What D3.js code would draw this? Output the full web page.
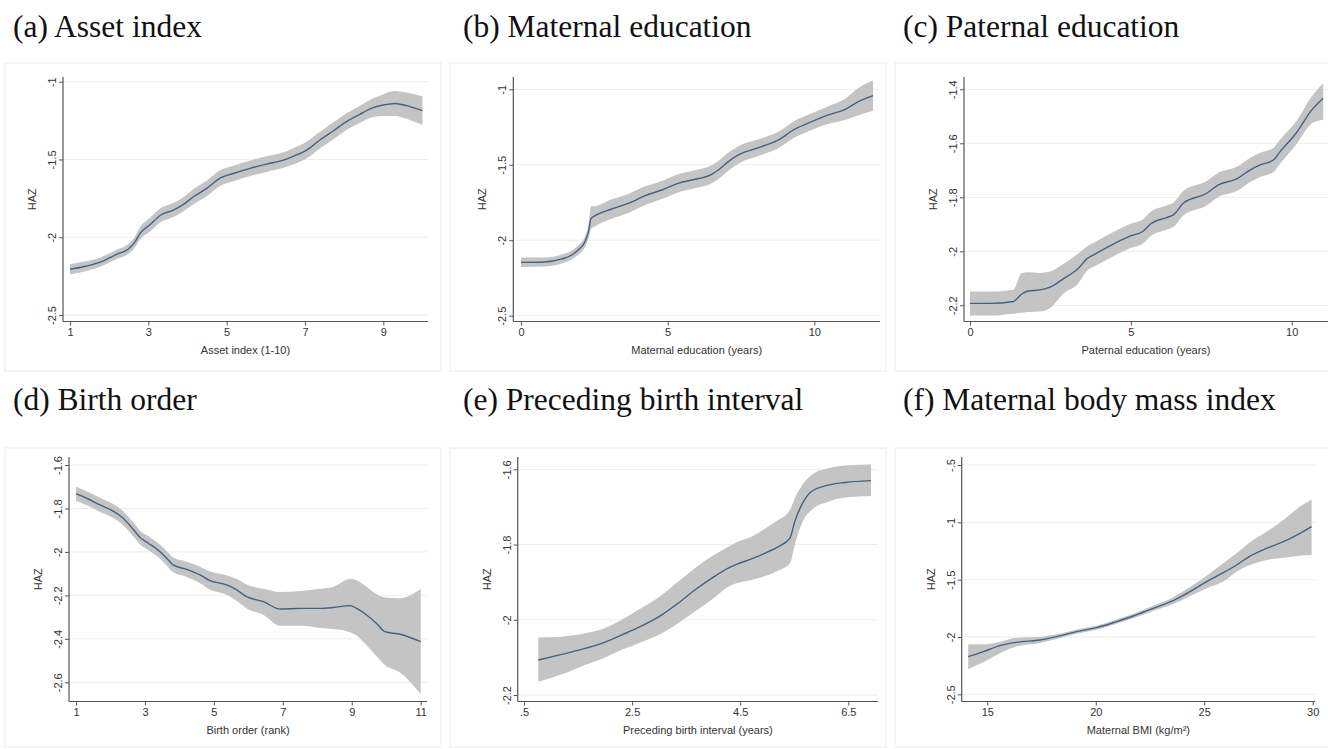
<!DOCTYPE html>
<html>
<head>
<meta charset="utf-8">
<script src="https://cdn.jsdelivr.net/npm/d3@7"></script>
<style>
  html, body { margin: 0; padding: 0; background: #fff; }
  svg { display: block; }
</style>
</head>
<body>
<svg id="chart" width="1328" height="749"></svg>
<script>
// ---- Panel titles and axis titles ----
const panelTitles = ["(a) Asset index", "(b) Maternal education", "(c) Paternal education",
                     "(d) Birth order", "(e) Preceding birth interval", "(f) Maternal body mass index"];
const xTitles = ["Asset index (1-10)", "Maternal education (years)", "Paternal education (years)",
                 "Birth order (rank)", "Preceding birth interval (years)", "Maternal BMI (kg/m\u00B2)"];
const yTitle = "HAZ";

// ---- Tick values ----
const xTicksA = [1, 3, 5, 7, 9];
const yTicksA = [-1, -1.5, -2, -2.5];
const xTicksB = [0, 5, 10];
const yTicksB = [-1, -1.5, -2, -2.5];
const xTicksC = [0, 5, 10];
const yTicksC = [-1.4, -1.6, -1.8, -2, -2.2];
const xTicksD = [1, 3, 5, 7, 9, 11];
const yTicksD = [-1.6, -1.8, -2, -2.2, -2.4, -2.6];
const xTicksE = [0.5, 2.5, 4.5, 6.5];
const yTicksE = [-1.6, -1.8, -2, -2.2];
const xTicksF = [15, 20, 25, 30];
const yTicksF = [-0.5, -1, -1.5, -2, -2.5];

// ---- (a) Asset index: smoothed HAZ with 95% CI ----
const assetX   = [1, 1.34, 1.77, 2.19, 2.49, 2.66, 2.79, 3.04, 3.3, 3.64, 3.89, 4.15, 4.49, 4.83, 5.17, 5.6, 6.02, 6.45, 6.7, 7.04, 7.38, 7.72, 8.06, 8.4, 8.74, 9.0, 9.3, 9.59, 10];
const assetFit = [-2.206, -2.19, -2.16, -2.11, -2.076, -2.03, -1.975, -1.92, -1.86, -1.825, -1.79, -1.74, -1.686, -1.62, -1.59, -1.557, -1.53, -1.504, -1.48, -1.44, -1.375, -1.317, -1.257, -1.21, -1.167, -1.15, -1.14, -1.154, -1.186];
const assetHi  = [-2.173, -2.158, -2.13, -2.08, -2.044, -1.995, -1.935, -1.875, -1.815, -1.78, -1.745, -1.692, -1.636, -1.57, -1.54, -1.507, -1.48, -1.454, -1.428, -1.386, -1.321, -1.263, -1.203, -1.154, -1.107, -1.08, -1.06, -1.069, -1.093];
const assetLo  = [-2.239, -2.222, -2.19, -2.14, -2.108, -2.065, -2.015, -1.965, -1.905, -1.87, -1.835, -1.788, -1.736, -1.67, -1.64, -1.607, -1.58, -1.554, -1.532, -1.494, -1.429, -1.371, -1.311, -1.266, -1.227, -1.22, -1.22, -1.239, -1.279];

// ---- (b) Maternal education ----
const matEduX   = [0, 0.82, 1.39, 1.73, 1.95, 2.18, 2.3, 2.39, 2.47, 3.09, 3.66, 4.23, 4.8, 5.36, 5.82, 6.5, 6.73, 7.07, 7.41, 8.2, 8.77, 9.34, 9.91, 10.48, 11.05, 11.5, 12];
const matEduFit = [-2.147, -2.144, -2.124, -2.098, -2.065, -2.01, -1.943, -1.855, -1.844, -1.793, -1.756, -1.705, -1.667, -1.623, -1.601, -1.563, -1.535, -1.479, -1.435, -1.38, -1.336, -1.263, -1.214, -1.17, -1.133, -1.082, -1.042];
const matEduHi  = [-2.115, -2.114, -2.094, -2.068, -2.033, -1.975, -1.9, -1.775, -1.775, -1.728, -1.693, -1.643, -1.607, -1.563, -1.541, -1.503, -1.475, -1.419, -1.377, -1.325, -1.281, -1.208, -1.159, -1.112, -1.063, -0.992, -0.942];
const matEduLo  = [-2.177, -2.174, -2.154, -2.128, -2.097, -2.045, -1.99, -1.925, -1.914, -1.858, -1.819, -1.767, -1.727, -1.683, -1.661, -1.623, -1.595, -1.539, -1.493, -1.435, -1.391, -1.318, -1.269, -1.228, -1.203, -1.172, -1.142];

// ---- (c) Paternal education ----
const patEduX   = [0, 0.62, 1.35, 1.6, 1.81, 2.18, 2.49, 2.9, 3.37, 3.63, 3.94, 4.56, 4.97, 5.39, 5.6, 6.11, 6.32, 6.63, 7.36, 7.72, 8.29, 8.7, 9.02, 9.43, 9.64, 10.16, 10.62, 10.98];
const patEduFit = [-2.193, -2.193, -2.186, -2.159, -2.147, -2.143, -2.133, -2.102, -2.063, -2.028, -2.007, -1.967, -1.944, -1.925, -1.9, -1.875, -1.865, -1.822, -1.785, -1.754, -1.732, -1.699, -1.68, -1.662, -1.631, -1.559, -1.477, -1.433];
const patEduHi  = [-2.149, -2.149, -2.142, -2.081, -2.078, -2.08, -2.075, -2.047, -2.008, -1.983, -1.962, -1.922, -1.899, -1.88, -1.855, -1.83, -1.82, -1.777, -1.74, -1.709, -1.687, -1.654, -1.635, -1.617, -1.586, -1.516, -1.427, -1.378];
const patEduLo  = [-2.238, -2.238, -2.231, -2.228, -2.225, -2.223, -2.21, -2.157, -2.118, -2.073, -2.052, -2.012, -1.989, -1.97, -1.945, -1.92, -1.91, -1.867, -1.83, -1.799, -1.777, -1.744, -1.725, -1.707, -1.676, -1.602, -1.527, -1.513];

// ---- (d) Birth order ----
const birthX   = [1, 1.31, 1.7, 2.08, 2.37, 2.66, 2.86, 3.1, 3.44, 3.63, 3.82, 4.21, 4.6, 4.89, 5.37, 5.66, 5.95, 6.44, 6.92, 7.5, 8.08, 8.47, 8.95, 9.14, 9.43, 9.72, 9.96, 10.4, 11];
const birthFit = [-1.732, -1.753, -1.784, -1.812, -1.845, -1.896, -1.934, -1.96, -1.999, -2.029, -2.06, -2.08, -2.106, -2.132, -2.152, -2.175, -2.206, -2.229, -2.263, -2.26, -2.26, -2.256, -2.247, -2.26, -2.29, -2.329, -2.367, -2.379, -2.413];
const birthHi  = [-1.7, -1.721, -1.752, -1.78, -1.813, -1.864, -1.902, -1.928, -1.967, -1.996, -2.026, -2.045, -2.068, -2.09, -2.107, -2.125, -2.15, -2.17, -2.185, -2.18, -2.17, -2.16, -2.125, -2.13, -2.16, -2.195, -2.21, -2.213, -2.171];
const birthLo  = [-1.764, -1.785, -1.816, -1.844, -1.877, -1.928, -1.966, -1.992, -2.031, -2.062, -2.094, -2.115, -2.144, -2.174, -2.197, -2.225, -2.26, -2.29, -2.34, -2.34, -2.35, -2.355, -2.37, -2.385, -2.43, -2.48, -2.52, -2.555, -2.655];

// ---- (e) Preceding birth interval ----
const intervalX   = [0.765, 1.2, 1.63, 1.94, 2.31, 2.61, 3.05, 3.35, 3.66, 3.97, 4.28, 4.43, 4.71, 5.02, 5.2, 5.42, 5.51, 5.67, 5.82, 6.13, 6.44, 6.92];
const intervalFit = [-2.107, -2.092, -2.076, -2.063, -2.04, -2.021, -1.987, -1.956, -1.921, -1.89, -1.863, -1.853, -1.838, -1.819, -1.806, -1.783, -1.739, -1.686, -1.659, -1.642, -1.635, -1.63];
const intervalHi  = [-2.047, -2.045, -2.036, -2.025, -2.0, -1.974, -1.934, -1.899, -1.863, -1.832, -1.806, -1.794, -1.779, -1.752, -1.735, -1.708, -1.677, -1.637, -1.615, -1.597, -1.59, -1.587];
const intervalLo  = [-2.165, -2.145, -2.12, -2.104, -2.08, -2.063, -2.036, -2.009, -1.978, -1.947, -1.912, -1.903, -1.894, -1.881, -1.87, -1.85, -1.801, -1.735, -1.708, -1.686, -1.675, -1.671];

// ---- (f) Maternal BMI ----
const bmiX   = [14.12, 14.82, 15.58, 16.35, 17.43, 18.2, 19.12, 20.04, 20.96, 21.73, 22.65, 23.57, 24.34, 25.11, 25.88, 26.49, 27.11, 27.88, 28.65, 29.41, 29.95];
const bmiFit = [-2.172, -2.128, -2.076, -2.047, -2.026, -1.997, -1.953, -1.919, -1.866, -1.817, -1.75, -1.683, -1.605, -1.517, -1.439, -1.372, -1.294, -1.227, -1.169, -1.096, -1.038];
const bmiHi  = [-2.064, -2.064, -2.041, -2.006, -2.0, -1.977, -1.935, -1.902, -1.848, -1.797, -1.727, -1.653, -1.565, -1.465, -1.358, -1.27, -1.174, -1.081, -0.98, -0.863, -0.8];
const bmiLo  = [-2.282, -2.221, -2.142, -2.084, -2.052, -2.017, -1.971, -1.936, -1.884, -1.837, -1.773, -1.713, -1.645, -1.575, -1.517, -1.43, -1.372, -1.328, -1.308, -1.291, -1.285];

// ---- Panel layout (pixel geometry) ----
const panels = [
  { title: panelTitles[0], xTitle: xTitles[0], x: assetX, fit: assetFit, hi: assetHi, lo: assetLo,
    xTicks: xTicksA, yTicks: yTicksA,
    origin: [0, 55], axisX: 63, xDom: [1, 10], xRng: [70, 422.5], yDom: [-1, -2.5], yRng: [26.7, 260], right: 428,
    titlePos: [13, 37] },
  { title: panelTitles[1], xTitle: xTitles[1], x: matEduX, fit: matEduFit, hi: matEduHi, lo: matEduLo,
    xTicks: xTicksB, yTicks: yTicksB,
    origin: [445, 55], axisX: 68.3, xDom: [0, 12], xRng: [76, 428], yDom: [-1, -2.5], yRng: [34.3, 260.7], right: 435,
    titlePos: [463, 37] },
  { title: panelTitles[2], xTitle: xTitles[2], x: patEduX, fit: patEduFit, hi: patEduHi, lo: patEduLo,
    xTicks: xTicksC, yTicks: yTicksC,
    origin: [890, 55], axisX: 74, xDom: [0, 10], xRng: [80, 401.7], yDom: [-1.4, -2.2], yRng: [34.3, 250.3], right: 438,
    titlePos: [903, 37] },
  { title: panelTitles[3], xTitle: xTitles[3], x: birthX, fit: birthFit, hi: birthHi, lo: birthLo,
    xTicks: xTicksD, yTicks: yTicksD,
    origin: [0, 435], axisX: 69, xDom: [1, 11], xRng: [76, 420.7], yDom: [-1.6, -2.6], yRng: [30, 247.3], right: 427,
    titlePos: [13, 410] },
  { title: panelTitles[4], xTitle: xTitles[4], x: intervalX, fit: intervalFit, hi: intervalHi, lo: intervalLo,
    xTicks: xTicksE, yTicks: yTicksE,
    origin: [445, 435], axisX: 72.7, xDom: [0.5, 6.5], xRng: [79, 403.3], yDom: [-1.6, -2.2], yRng: [34.3, 260], right: 433,
    titlePos: [463, 410] },
  { title: panelTitles[5], xTitle: xTitles[5], x: bmiX, fit: bmiFit, hi: bmiHi, lo: bmiLo,
    xTicks: xTicksF, yTicks: yTicksF,
    origin: [890, 435], axisX: 71.7, xDom: [15, 30], xRng: [97.3, 422.7], yDom: [-0.5, -2.5], yRng: [30, 259.3], right: 425,
    titlePos: [903, 410] }
];

// Stata-style number format: drop leading zero ("-.5", ".5")
const stataFmt = v => {
  const s = String(+v.toFixed(3));
  return s.replace(/^(-?)0\./, "$1.");
};

const svg = d3.select("#chart");
const axisY = 266.5;      // x-axis baseline within each panel
const axisTop = 22;       // top of the y-axis line
const sansFont = "'Liberation Sans', Arial, sans-serif";

panels.forEach((p, i) => {
  const g = svg.append("g").attr("transform", `translate(${p.origin[0]},${p.origin[1]})`);
  const topRow = i < 3;

  // graph region outline
  g.append("rect")
    .attr("x", 5).attr("y", topRow ? 8 : 13)
    .attr("width", 436).attr("height", topRow ? 308 : 299)
    .attr("fill", "#fff").attr("stroke", "#f2f2f2").attr("stroke-width", 1.5);

  const x = d3.scaleLinear().domain(p.xDom).range(p.xRng);
  const y = d3.scaleLinear().domain(p.yDom).range(p.yRng);

  // horizontal gridlines
  g.append("g").selectAll("line").data(p.yTicks).join("line")
    .attr("x1", p.axisX).attr("x2", p.right)
    .attr("y1", d => y(d)).attr("y2", d => y(d))
    .attr("stroke", "#ededed").attr("stroke-width", 1);

  // confidence band
  const rows = p.x.map((xv, k) => ({ x: xv, fit: p.fit[k], hi: p.hi[k], lo: p.lo[k] }));
  g.append("path").datum(rows)
    .attr("d", d3.area().x(d => x(d.x)).y0(d => y(d.lo)).y1(d => y(d.hi)).curve(d3.curveMonotoneX))
    .attr("fill", "#c4c4c4");

  // fitted line
  g.append("path").datum(rows)
    .attr("d", d3.line().x(d => x(d.x)).y(d => y(d.fit)).curve(d3.curveMonotoneX))
    .attr("fill", "none").attr("stroke", "#46617f").attr("stroke-width", 1.4);

  // y axis
  const yAxis = d3.axisLeft(y).tickValues(p.yTicks).tickSize(4).tickPadding(3).tickFormat(stataFmt);
  const ya = g.append("g").attr("transform", `translate(${p.axisX},0)`).call(yAxis);
  ya.select(".domain").remove();
  ya.selectAll(".tick line").attr("stroke", "#555");
  ya.selectAll(".tick text")
    .attr("x", null).attr("dy", null)
    .attr("transform", "translate(-7,0) rotate(-90)")
    .attr("text-anchor", "middle")
    .attr("font-family", sansFont).attr("font-size", 11).attr("fill", "#333");
  g.append("line")
    .attr("x1", p.axisX).attr("x2", p.axisX).attr("y1", axisTop).attr("y2", axisY)
    .attr("stroke", "#555").attr("stroke-width", 1.2);

  // x axis
  const xAxis = d3.axisBottom(x).tickValues(p.xTicks).tickSize(4).tickPadding(3).tickFormat(stataFmt);
  const xa = g.append("g").attr("transform", `translate(0,${axisY})`).call(xAxis);
  xa.select(".domain").remove();
  xa.selectAll(".tick line").attr("stroke", "#555");
  xa.selectAll(".tick text")
    .attr("font-family", sansFont).attr("font-size", 11).attr("fill", "#333");
  g.append("line")
    .attr("x1", p.axisX).attr("x2", p.right).attr("y1", axisY).attr("y2", axisY)
    .attr("stroke", "#555").attr("stroke-width", 1.2);

  // axis titles
  g.append("text")
    .attr("transform", `translate(${p.axisX - 27},${(axisTop + axisY) / 2}) rotate(-90)`)
    .attr("text-anchor", "middle")
    .attr("font-family", sansFont).attr("font-size", 11).attr("fill", "#333")
    .text(yTitle);
  g.append("text")
    .attr("x", (p.axisX + p.right) / 2).attr("y", axisY + 32)
    .attr("text-anchor", "middle")
    .attr("font-family", sansFont).attr("font-size", 11).attr("fill", "#333")
    .text(p.xTitle);

  // panel title
  svg.append("text")
    .attr("x", p.titlePos[0]).attr("y", p.titlePos[1])
    .attr("font-family", "'Liberation Serif', 'Times New Roman', serif")
    .attr("font-size", 31.5).attr("fill", "#111")
    .text(p.title);
});
</script>
</body>
</html>
